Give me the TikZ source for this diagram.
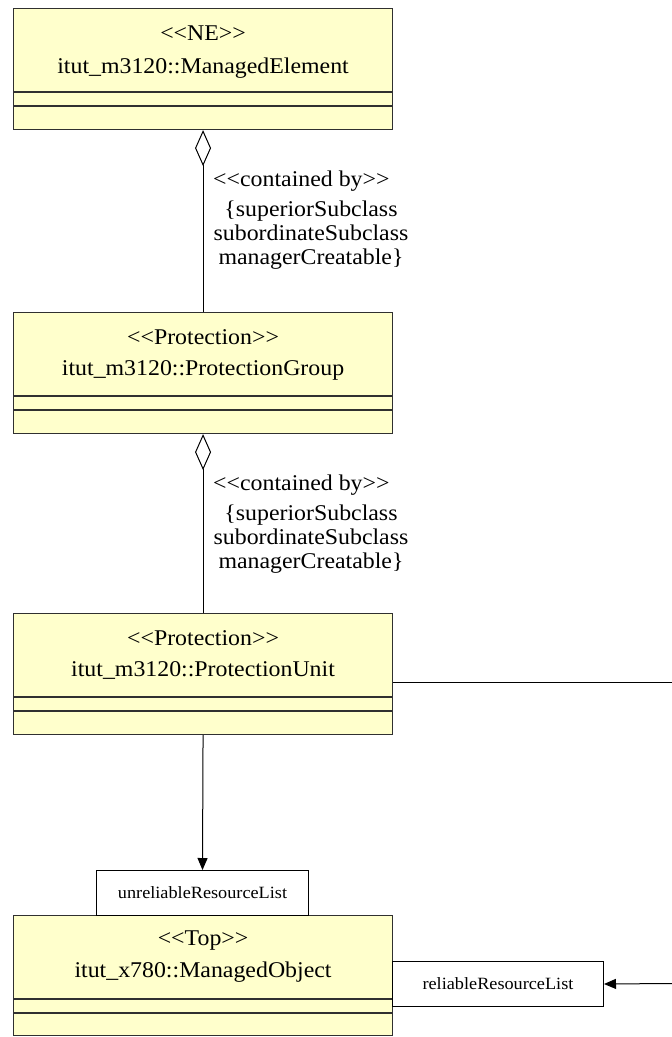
\documentclass[tikz,border=0pt]{standalone}
\usepackage{fontspec}
\setmainfont{Liberation Serif}
\usepackage{graphicx}
\usetikzlibrary{arrows.meta,calc}
\definecolor{umlyellow}{HTML}{FFFFCC}
\definecolor{umlborder}{HTML}{303030}
\newcommand\hs[1]{\scalebox{1.06}[1]{#1}}
\newcommand\lgl{<\kern0pt<}
\newcommand\rgl{>\kern0pt>}
\begin{document}
\begin{tikzpicture}[x=1pt,y=-1pt,
  cls/.style={draw=umlborder,line width=1.1pt,fill=umlyellow,minimum width=379pt,minimum height=121pt,anchor=north west,inner sep=0pt},
  div/.style={draw=umlborder,line width=1.1pt},
  big/.style={font=\fontsize{22.5pt}{24pt}\selectfont,inner sep=0pt,anchor=base},
  small/.style={font=\fontsize{17.2pt}{19pt}\selectfont},
  rolebox/.style={draw=black,line width=1pt,fill=white,inner sep=0pt,anchor=north west},
  conn/.style={draw=black,line width=1pt},
  agg/.style={conn,-{Diamond[open,length=36pt,width=16pt]}},
  arr/.style={conn,-{Triangle[length=12pt,width=10pt]}}]
\useasboundingbox (0,0) rectangle (672,1037);
\fill[white] (0,0) rectangle (672,1037);

% class boxes
\node[cls] (b1) at (13,8) {};
\node[cls] (b2) at (13,312) {};
\node[cls] (b3) at (13,613) {};
\node[cls,minimum height=120pt] (b4) at (13,915) {};
\foreach \b in {b1,b2,b3,b4}{
  \draw[div] ($(\b.north west)+(0,84)$) -- ($(\b.north east)+(0,84)$);
  \draw[div] ($(\b.north west)+(0,98)$) -- ($(\b.north east)+(0,98)$);
}
\node[big] (t1a) at ($(b1.north)+(0,32)$) {\hs{\lgl NE\rgl}};
\node[big] (t1b) at ($(b1.north)+(0,65)$) {\hs{itut\_m3120::ManagedElement}};
\node[big] (t2a) at ($(b2.north)+(0,32)$) {\hs{\lgl Protection\rgl}};
\node[big] (t2b) at ($(b2.north)+(0,63)$) {\hs{itut\_m3120::ProtectionGroup}};
\node[big] (t3a) at ($(b3.north)+(0,32)$) {\hs{\lgl Protection\rgl}};
\node[big] (t3b) at ($(b3.north)+(0,63)$) {\hs{itut\_m3120::ProtectionUnit}};
\node[big] (t4a) at ($(b4.north)+(0,30)$) {\hs{\lgl Top\rgl}};
\node[big] (t4b) at ($(b4.north)+(0,62)$) {\hs{itut\_x780::ManagedObject}};

% role boxes
\node[rolebox,minimum width=212pt,minimum height=45pt] (u) at (96,870) {};
\node[small] at (u.center) {\hs{unreliableResourceList}};
\node[rolebox,minimum width=211pt,minimum height=45pt] (r) at (392,961) {};
\node[small] at (r.center) {\hs{reliableResourceList}};

% containment 1
\draw[agg] (b2.north) -- (b1.south);
\node[big,anchor=base west] (c1) at (213,186) {\hs{\lgl contained by\rgl}};
\node[big] (k1a) at (311,216) {\hs{\{superiorSubclass}};
\node[big] (k1b) at (311,240) {\hs{subordinateSubclass}};
\node[big] (k1c) at (311,264) {\hs{managerCreatable\}}};

% containment 2
\draw[agg] (b3.north) -- (b2.south);
\node[big,anchor=base west] (c2) at (213,490) {\hs{\lgl contained by\rgl}};
\node[big] (k2a) at (311,520) {\hs{\{superiorSubclass}};
\node[big] (k2b) at (311,544) {\hs{subordinateSubclass}};
\node[big] (k2c) at (311,568) {\hs{managerCreatable\}}};

% associations
\draw[arr] (b3.south) -- (u.north);
\coordinate (e1) at (672,682);
\draw[conn] (e1 -| b3.east) -- (e1);
\coordinate (e2) at (672,983.5);
\draw[arr] (e2) -- (r.east);
\end{tikzpicture}
\end{document}
